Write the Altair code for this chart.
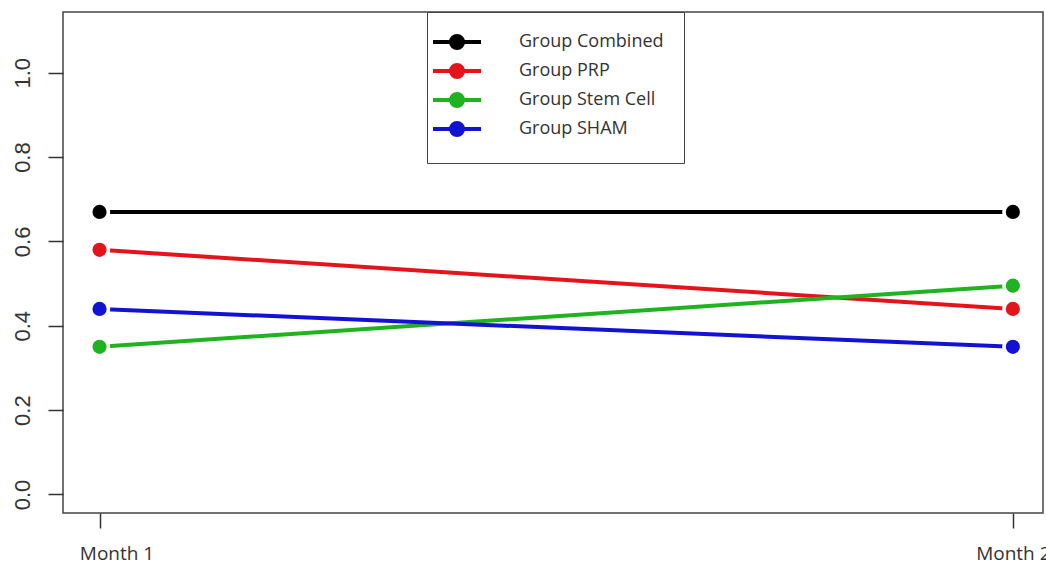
import altair as alt
import pandas as pd

# ---- data ----
months = ["Month 1", "Month 2"]
month_index = [1, 2]
groups = ["Group Combined", "Group PRP", "Group Stem Cell", "Group SHAM"]
colors = ["#000000", "#e3141c", "#1fb31f", "#1212d2"]
combined = [0.67, 0.67]
prp = [0.58, 0.44]
stem_cell = [0.35, 0.495]
sham = [0.44, 0.35]
y_ticks = [0.0, 0.2, 0.4, 0.6, 0.8, 1.0]

series = {
    "Group Combined": combined,
    "Group PRP": prp,
    "Group Stem Cell": stem_cell,
    "Group SHAM": sham,
}
rows = []
for g in groups:
    for mi, m, v in zip(month_index, months, series[g]):
        rows.append({"group": g, "month": m, "mi": mi, "value": v})
df = pd.DataFrame(rows)

label_expr = " : ".join(
    [f"datum.value == {i} ? '{m}'" for i, m in zip(month_index[:-1], months[:-1])]
) + f" : '{months[-1]}'"

x_enc = alt.X(
    "mi:Q",
    scale=alt.Scale(domain=[0.96, 2.033], nice=False, zero=False),
    axis=alt.Axis(
        values=month_index,
        labelExpr=label_expr,
        title=None,
        grid=False,
        domain=False,
        tickSize=15,
        tickWidth=1.5,
        tickColor="#333333",
        labelFont="Open Sans",
        labelFontSize=19,
        labelColor="#333333",
        labelPadding=16,
        labelOffset={"condition": {"test": "datum.value == 1", "value": 17}, "value": 0},
        labelFlush=False,
    ),
)
y_enc = alt.Y(
    "value:Q",
    scale=alt.Scale(domain=[-0.044, 1.144], nice=False, zero=False),
    axis=alt.Axis(
        values=y_ticks,
        format=".1f",
        title=None,
        grid=False,
        domain=False,
        tickSize=15,
        tickWidth=1.5,
        tickColor="#333333",
        labelAngle=270,
        labelAlign="center",
        labelBaseline="bottom",
        labelFont="Liberation Sans",
        labelFontSize=22,
        labelColor="#333333",
        labelPadding=14,
        labelFlush=False,
    ),
)

legend_path = "M-3,0L3,0M0.75,0A0.75,0.75,0,1,1,-0.75,0A0.75,0.75,0,1,1,0.75,0Z"
legend = alt.Legend(
    title=None,
    orient="none",
    legendX=364,
    legendY=0,
    symbolType=legend_path,
    symbolSize=256,
    symbolStrokeWidth=4,
    labelFont="Open Sans",
    labelFontSize=18,
    labelColor="#333333",
    labelOffset=52,
    rowPadding=1,
    padding=20,
    strokeColor="#444444",
    fillColor="white",
)
cscale = alt.Scale(domain=groups, range=colors)

lines = alt.Chart(df).mark_line(strokeWidth=4).encode(
    x=x_enc,
    y=y_enc,
    stroke=alt.Stroke("group:N", scale=cscale, legend=legend),
    detail="group:N",
)
halo = alt.Chart(df).mark_circle(color="white", size=452, opacity=1).encode(
    x="mi:Q", y="value:Q"
)
points = alt.Chart(df).mark_circle(size=201, opacity=1).encode(
    x="mi:Q",
    y="value:Q",
    fill=alt.Fill("group:N", scale=cscale, legend=legend),
)

chart = (
    alt.layer(lines, halo, points)
    .properties(
        width=980,
        height=501,
        autosize=alt.AutoSizeParams(type="none"),
        padding={"left": 63, "top": 12, "right": 3, "bottom": 53},
        background="white",
    )
    .configure_view(stroke="#444444", strokeWidth=1.5)
)

chart.save("out.html", embed_options={"renderer": "svg", "actions": False})
